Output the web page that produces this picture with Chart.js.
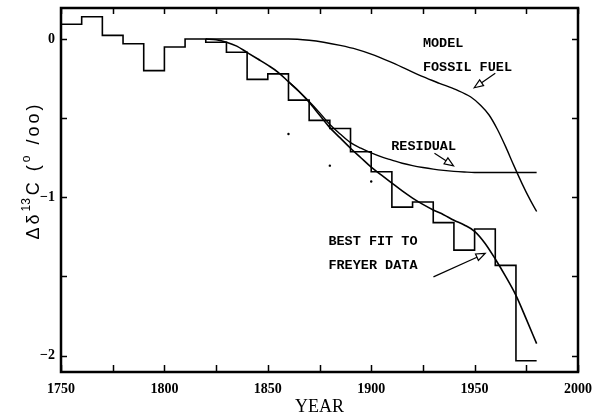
<!DOCTYPE html>
<html>
<head>
<meta charset="utf-8">
<script src="https://cdn.jsdelivr.net/npm/chart.js@4/dist/chart.umd.min.js"></script>
<style>
html,body{margin:0;padding:0;background:#fff;}
canvas{display:block;}
</style>
</head>
<body>
<canvas id="c" width="598" height="414"></canvas>
<script>
// ---- data ----
const stepYears = [1750,1760,1770,1780,1790,1800,1810,1820,1830,1840,1850,1860,1870,1880,1890,1900,1910,1920,1930,1940,1950,1960,1970,1980];
const freyerValues = [0.093,0.141,0.023,-0.03,-0.2,-0.05,0.0,-0.02,-0.084,-0.255,-0.22,-0.386,-0.514,-0.565,-0.712,-0.839,-1.062,-1.03,-1.16,-1.334,-1.2,-1.43,-2.033,-2.033];

const fitYears = [1820,1825,1830,1835,1840,1845,1850,1855,1860,1865,1870,1875,1880,1885,1890,1895,1900,1905,1910,1915,1920,1925,1930,1935,1940,1945,1950,1955,1960,1965,1970,1975,1980];
const fitValues = [0,-0.005,-0.02,-0.045,-0.085,-0.125,-0.165,-0.21,-0.27,-0.33,-0.40,-0.48,-0.56,-0.625,-0.69,-0.75,-0.81,-0.86,-0.91,-0.96,-1.005,-1.045,-1.08,-1.11,-1.145,-1.175,-1.215,-1.29,-1.39,-1.5,-1.62,-1.77,-1.925];

const residualYears = [1860,1865,1870,1875,1880,1885,1890,1895,1900,1905,1910,1915,1920,1925,1930,1935,1940,1945,1950,1980];
const residualValues = [-0.27,-0.33,-0.395,-0.465,-0.54,-0.60,-0.655,-0.69,-0.72,-0.745,-0.765,-0.785,-0.80,-0.812,-0.822,-0.83,-0.836,-0.84,-0.843,-0.843];

const fossilYears = [1820,1860,1870,1877,1885,1893,1900,1909,1917,1925,1933,1941,1948,1953,1957,1961,1965,1969,1973,1977,1980];
const fossilValues = [0,0,-0.008,-0.02,-0.04,-0.065,-0.095,-0.143,-0.19,-0.238,-0.28,-0.32,-0.365,-0.42,-0.48,-0.57,-0.68,-0.8,-0.915,-1.02,-1.09];

const dotYears = [1860,1880,1900];
const dotValues = [-0.6,-0.8,-0.9];

const xTickValues = [1750,1775,1800,1825,1850,1875,1900,1925,1950,1975,2000];
const xLabelValues = [1750,1800,1850,1900,1950,2000];
const xLabelTexts = ['1750','1800','1850','1900','1950','2000'];
const yTickValues = [-2,-1.5,-1,-0.5,0];
const yLabelValues = [-2,-1,0];
const yLabelTexts = ['\u22122','\u22121','0'];

// annotations (data coordinates)
const labels = [
  {text:'MODEL', x:1925, y:-0.032},
  {text:'FOSSIL FUEL', x:1925, y:-0.181},
  {text:'RESIDUAL', x:1909.7, y:-0.681},
  {text:'BEST FIT TO', x:1879.3, y:-1.281},
  {text:'FREYER DATA', x:1879.3, y:-1.433}
];
const arrows = [
  {x1:1960, y1:-0.217, x2:1949.8, y2:-0.308},
  {x1:1930.6, y1:-0.722, x2:1939.8, y2:-0.801},
  {x1:1930.1, y1:-1.503, x2:1955.1, y2:-1.355}
];

const pts = (xs, ys) => xs.map((x,i)=>({x:x, y:ys[i]}));

const framePlugin = {
  id:'frame',
  afterDatasetsDraw(chart){
    const ctx = chart.ctx, a = chart.chartArea;
    const xs = chart.scales.x, ys = chart.scales.y;
    ctx.save();
    ctx.strokeStyle = '#000';
    // ticks (inward)
    ctx.lineWidth = 1.5;
    ctx.beginPath();
    xTickValues.forEach(v=>{
      const px = Math.round(xs.getPixelForValue(v))+0.5;
      ctx.moveTo(px, a.bottom); ctx.lineTo(px, a.bottom-7);
      ctx.moveTo(px, a.top); ctx.lineTo(px, a.top+6);
    });
    yTickValues.forEach(v=>{
      const py = Math.round(ys.getPixelForValue(v))+0.5;
      ctx.moveTo(a.left, py); ctx.lineTo(a.left+6, py);
      ctx.moveTo(a.right, py); ctx.lineTo(a.right-6, py);
    });
    ctx.stroke();
    // border
    ctx.lineWidth = 2.5;
    ctx.strokeRect(a.left, a.top, a.right-a.left, a.bottom-a.top);

    // tick labels
    ctx.fillStyle = '#000';
    ctx.font = 'bold 14px "Liberation Serif", "DejaVu Serif", serif';
    ctx.textBaseline = 'middle';
    ctx.textAlign = 'center';
    xLabelValues.forEach((v,i)=>{
      ctx.fillText(xLabelTexts[i], xs.getPixelForValue(v), a.bottom + 17);
    });
    ctx.textAlign = 'right';
    yLabelValues.forEach((v,i)=>{
      ctx.fillText(yLabelTexts[i], a.left - 6, ys.getPixelForValue(v));
    });

    // annotation text
    ctx.font = 'bold 13.5px "Liberation Mono", "DejaVu Sans Mono", monospace';
    ctx.textBaseline = 'middle';
    ctx.textAlign = 'left';
    labels.forEach(l=>{
      ctx.fillText(l.text, xs.getPixelForValue(l.x), ys.getPixelForValue(l.y));
    });
    // arrows
    ctx.lineWidth = 1.2;
    arrows.forEach(ar=>{
      const x1 = xs.getPixelForValue(ar.x1), y1 = ys.getPixelForValue(ar.y1);
      const x2 = xs.getPixelForValue(ar.x2), y2 = ys.getPixelForValue(ar.y2);
      const ang = Math.atan2(y2-y1, x2-x1);
      const L = 9, W = 3.5;
      const bx = x2 - L*Math.cos(ang), by = y2 - L*Math.sin(ang);
      ctx.beginPath();
      ctx.moveTo(x1,y1); ctx.lineTo(bx,by);
      ctx.stroke();
      ctx.beginPath();
      ctx.moveTo(x2,y2);
      ctx.lineTo(bx + W*Math.sin(ang), by - W*Math.cos(ang));
      ctx.lineTo(bx - W*Math.sin(ang), by + W*Math.cos(ang));
      ctx.closePath();
      ctx.fillStyle = '#fff';
      ctx.fill();
      ctx.stroke();
    });

    // x axis title
    ctx.fillStyle = '#000';
    ctx.font = '18px "Liberation Serif", "DejaVu Serif", serif';
    ctx.textAlign = 'center';
    ctx.textBaseline = 'alphabetic';
    ctx.fillText('YEAR', (a.left+a.right)/2, 412);

    // y axis title (rotated, with superscripts, tracked)
    ctx.save();
    ctx.translate(39, 172);
    ctx.rotate(-Math.PI/2);
    const big = '18px "Liberation Sans", Arial, sans-serif';
    const small = '12px "Liberation Sans", Arial, sans-serif';
    const track = 3;
    const parts = [
      {t:'\u0394', f:big, dy:0},
      {t:'\u03b4', f:big, dy:0},
      {t:'13', f:small, dy:-9},
      {t:'C', f:big, dy:0},
      {t:' ', f:big, dy:0},
      {t:'(', f:big, dy:0},
      {t:'o', f:small, dy:-9},
      {t:' ', f:big, dy:0},
      {t:'/', f:big, dy:0},
      {t:'o', f:big, dy:0},
      {t:'o', f:big, dy:0},
      {t:')', f:big, dy:0}
    ];
    let total = 0;
    parts.forEach((p,i)=>{ctx.font=p.f; p.w = ctx.measureText(p.t).width + (i<parts.length-1?track:0); total += p.w;});
    let cx = -total/2;
    ctx.textAlign = 'left';
    ctx.textBaseline = 'alphabetic';
    parts.forEach(p=>{ctx.font=p.f; ctx.fillText(p.t, cx, p.dy); cx += p.w;});
    ctx.restore();

    ctx.restore();
  }
};

new Chart(document.getElementById('c'), {
  type:'line',
  data:{
    datasets:[
      {data:pts(stepYears, freyerValues), stepped:'before', borderColor:'#000', borderWidth:1.6, pointRadius:0, fill:false},
      {data:pts(fitYears, fitValues), cubicInterpolationMode:'monotone', borderColor:'#000', borderWidth:1.6, pointRadius:0, fill:false},
      {data:pts(residualYears, residualValues), cubicInterpolationMode:'monotone', borderColor:'#000', borderWidth:1.4, pointRadius:0, fill:false},
      {data:pts(fossilYears, fossilValues), cubicInterpolationMode:'monotone', borderColor:'#000', borderWidth:1.4, pointRadius:0, fill:false},
      {data:pts(dotYears, dotValues), showLine:false, pointRadius:1.2, pointBorderWidth:0, pointBackgroundColor:'#000', borderColor:'#000'}
    ]
  },
  options:{
    responsive:false,
    animation:false,
    devicePixelRatio:1,
    layout:{padding:{left:0, right:20, top:8, bottom:0}},
    plugins:{legend:{display:false}, tooltip:{enabled:false}},
    scales:{
      x:{
        type:'linear', min:1750, max:2000,
        grid:{display:false, drawTicks:false},
        border:{display:false},
        ticks:{display:false},
        afterFit:(s)=>{s.height = 42;}
      },
      y:{
        type:'linear', min:-2.104, max:0.196,
        grid:{display:false, drawTicks:false},
        border:{display:false},
        ticks:{display:false},
        afterFit:(s)=>{s.width = 61;}
      }
    }
  },
  plugins:[framePlugin]
});
</script>
</body>
</html>
